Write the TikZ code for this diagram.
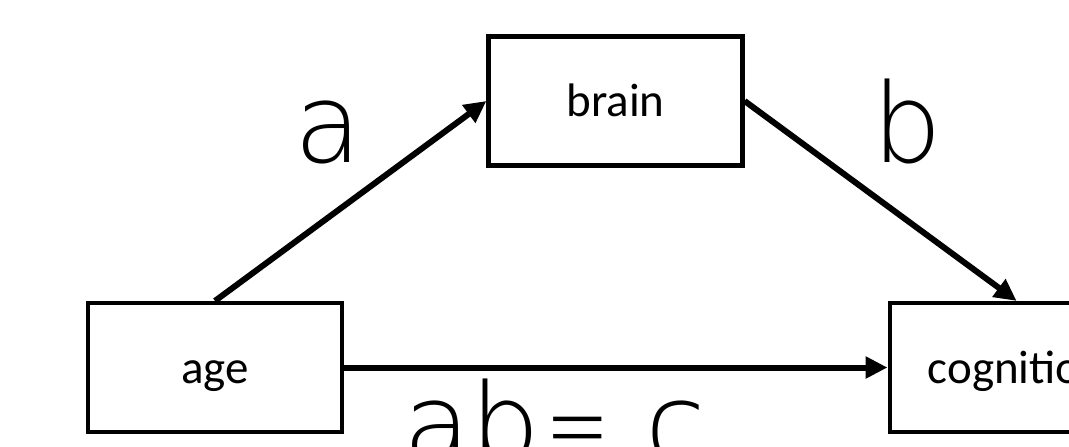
\documentclass[tikz,border=0pt]{standalone}
\usepackage{fontspec}
\usepackage{graphicx}
\setmainfont{Carlito}
\newfontfamily\thinfont{DejaVu Sans ExtraLight}
\usetikzlibrary{arrows.meta}
\tikzset{
  box/.style={draw=black, line width=2.1pt, fill=white, minimum width=127pt, minimum height=64.5pt,
    inner sep=0pt, font=\fontsize{23.5pt}{28pt}\selectfont, text height=20pt, text depth=4.5pt},
  conn/.style={line width=3pt, -{Triangle[length=11pt,width=10.5pt]}},
  biglabel/.style={inner sep=0pt, font=\thinfont\fontsize{55pt}{60pt}\selectfont, anchor=base}
}
\begin{document}
\begin{tikzpicture}[x=0.5pt,y=-0.5pt]
\useasboundingbox (0,0) rectangle (1069,446);
\node[box] (age) at (215,367.5) {age};
\node[box] (brain) at (615.5,101) {brain};
\node[box] (cog) at (1016.6,367.5) {cognition};
\draw[conn] (age.north) -- (brain.west);
\draw[conn] (brain.east) -- (cog.north);
\draw[conn] (age.east) -- (cog.west);
\node[biglabel] (la) at (328,162) {a};
\node[biglabel] (lb) at (907,162) {b};
\node[biglabel, anchor=base west] (lab) at (403,462) {ab\kern2.5pt\scalebox{0.7}[1]{=}\ c};
\end{tikzpicture}
\end{document}
